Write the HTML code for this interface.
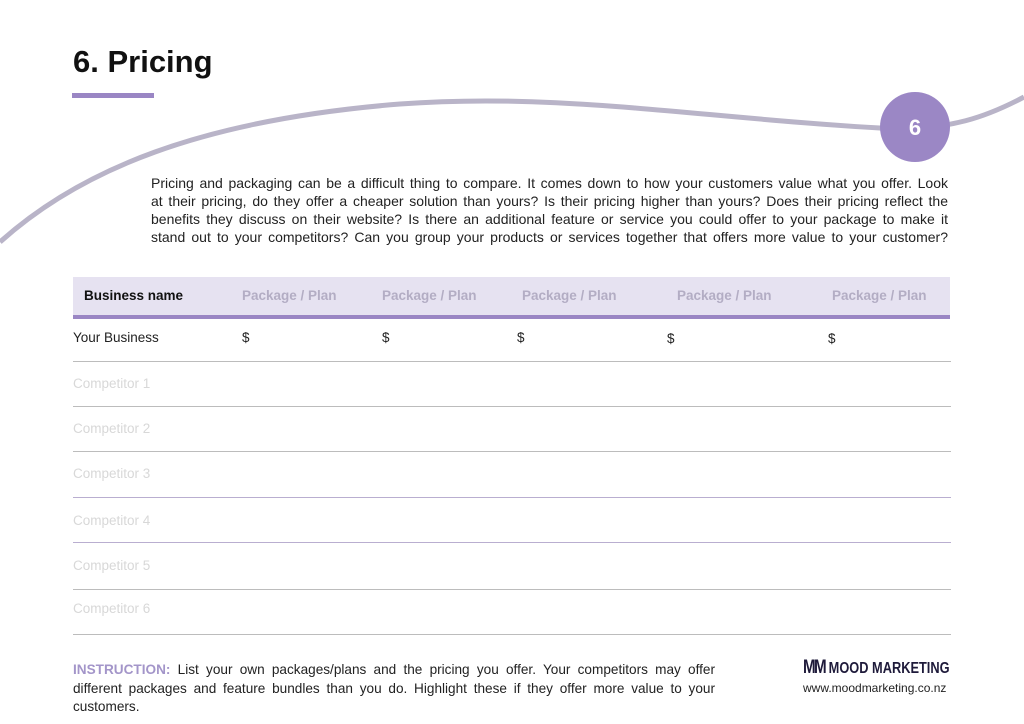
<!DOCTYPE html>
<html><head><meta charset="utf-8"><style>
body{margin:0;width:1024px;height:724px;background:#fff;position:relative;overflow:hidden;font-family:"Liberation Sans",sans-serif;color:#222}
.a{position:absolute;white-space:nowrap}
h1{position:absolute;left:73px;top:44px;margin:0;font-size:31px;font-weight:bold;color:#111}
.p{position:absolute;left:151px;top:174px;width:797px;font-size:14px;line-height:18px;color:#222}
.p div,.ins div{text-align:justify;text-align-last:justify;white-space:nowrap}
.hd{position:absolute;left:73px;top:277px;width:877px;height:38px;background:#e6e2f1;border-bottom:4px solid #9a86c4}
.h{font-size:13.5px;font-weight:bold;color:#b3adc4;top:288px}
.ln{position:absolute;left:73px;width:878px;height:1px;background:#bcbcbc}
.c{font-size:13.5px;color:#d8d8d8}
</style></head><body>
<h1>6. Pricing</h1>
<div style="position:absolute;left:72px;top:93px;width:82px;height:5px;background:#9a86c4"></div>
<svg class="a" style="left:0;top:0" width="1024" height="300">
<path d="M0,242 C80,170 200,120 400,104 C560,92 700,118 880,128 C950,132 990,115 1024,97" fill="none" stroke="#b9b4c8" stroke-width="5"/>
<circle cx="915" cy="127" r="35" fill="#9b87c5"/>
<text x="915" y="135" font-size="22" font-weight="bold" fill="#fff" text-anchor="middle" font-family="Liberation Sans">6</text>
</svg>
<div class="p">
<div>Pricing and packaging can be a difficult thing to compare. It comes down to how your customers value what you offer. Look</div>
<div>at their pricing, do they offer a cheaper solution than yours? Is their pricing higher than yours? Does their pricing reflect the</div>
<div>benefits they discuss on their website? Is there an additional feature or service you could offer to your package to make it</div>
<div>stand out to your competitors? Can you group your products or services together that offers more value to your customer?</div>
</div>
<div class="hd"></div>
<div class="a h" style="left:84px;color:#111">Business name</div>
<div class="a h" style="left:242px">Package / Plan</div>
<div class="a h" style="left:382px">Package / Plan</div>
<div class="a h" style="left:522px">Package / Plan</div>
<div class="a h" style="left:677px">Package / Plan</div>
<div class="a h" style="left:832px">Package / Plan</div>
<div class="a" style="left:73px;top:330px;font-size:13.5px">Your Business</div>
<div class="a" style="left:242px;top:330px;font-size:13.5px">$</div>
<div class="a" style="left:382px;top:330px;font-size:13.5px">$</div>
<div class="a" style="left:517px;top:330px;font-size:13.5px">$</div>
<div class="a" style="left:667px;top:331px;font-size:13.5px">$</div>
<div class="a" style="left:828px;top:331px;font-size:13.5px">$</div>
<div class="ln" style="top:361px"></div>
<div class="a c" style="left:73px;top:376px">Competitor 1</div>
<div class="ln" style="top:406px"></div>
<div class="a c" style="left:73px;top:421px">Competitor 2</div>
<div class="ln" style="top:451px"></div>
<div class="a c" style="left:73px;top:466px">Competitor 3</div>
<div class="ln" style="top:497px;background:#b9aed0"></div>
<div class="a c" style="left:73px;top:513px">Competitor 4</div>
<div class="ln" style="top:542px;background:#b9aed0"></div>
<div class="a c" style="left:73px;top:558px">Competitor 5</div>
<div class="ln" style="top:589px"></div>
<div class="a c" style="left:73px;top:601px">Competitor 6</div>
<div class="ln" style="top:634px"></div>
<div class="a ins" style="left:73px;top:661px;font-size:13.6px;line-height:18.5px;color:#222;width:642px">
<div><b style="color:#a395c9">INSTRUCTION:</b> List your own packages/plans and the pricing you offer. Your competitors may offer</div>
<div>different packages and feature bundles than you do. Highlight these if they offer more value to your</div>
<div style="text-align-last:left">customers.</div>
</div>
<div class="a" style="left:803px;top:657px;font-size:16px;font-weight:bold;color:#1e1a3a;transform:scaleX(0.8);transform-origin:left"><span style="font-size:19px;letter-spacing:-2px">MM</span> MOOD MARKETING</div>
<div class="a" style="left:803px;top:681px;font-size:12px;color:#222">www.moodmarketing.co.nz</div>
</body></html>
